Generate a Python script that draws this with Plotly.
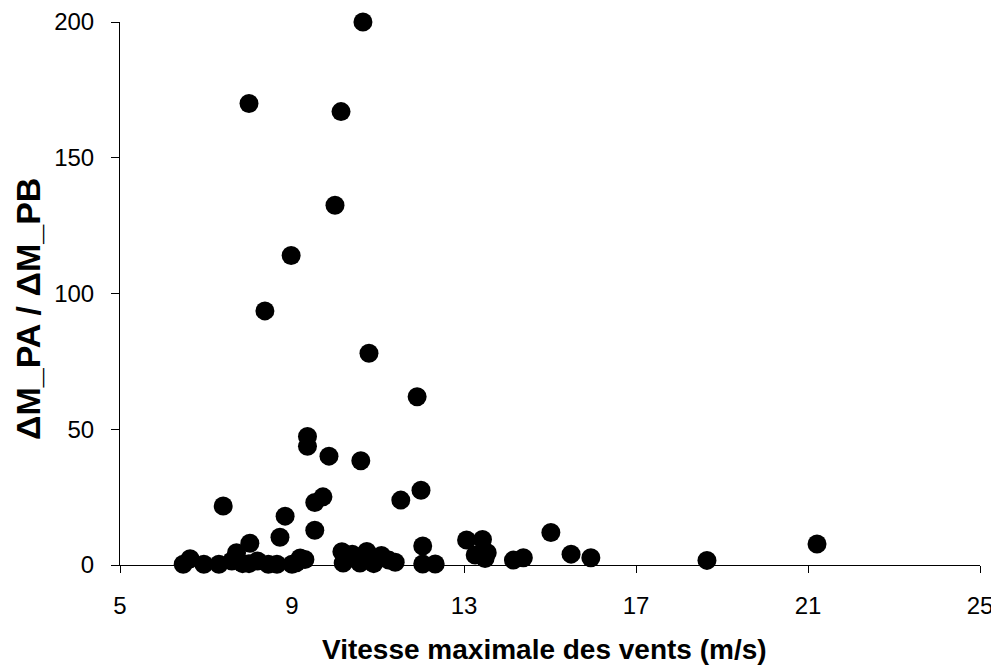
import plotly.graph_objects as go

# Vitesse maximale des vents (m/s)
vitesse = [6.47, 6.63, 6.95, 7.30, 7.40, 7.60, 7.71, 7.85, 8.02, 8.00,
           8.20, 8.45, 8.65, 8.72, 8.84, 8.98, 9.00, 9.10, 9.19, 9.30,
           9.36, 9.36, 9.53, 9.53, 9.72, 9.86, 10.00, 10.14, 10.16, 10.19,
           10.40, 10.58, 10.60, 10.65, 10.74, 10.79, 10.90, 11.08, 11.25, 11.40,
           11.53, 11.91, 12.00, 12.04, 12.04, 12.33, 13.06, 13.26, 13.43, 13.49,
           13.54, 14.15, 14.38, 15.02, 15.49, 15.95, 18.65, 21.21, 8.37, 8.00]
# ΔM_PA / ΔM_PB
ratio = [0.3, 2.3, 0.3, 0.3, 21.7, 1.5, 4.5, 0.5, 8.0, 0.5,
         1.5, 0.3, 0.3, 10.2, 18.0, 114.0, 0.3, 0.8, 2.6, 2.0,
         47.3, 43.7, 23.0, 12.8, 25.1, 40.1, 132.5, 167.0, 4.9, 0.7,
         4.0, 0.7, 38.4, 200.0, 5.0, 78.0, 0.5, 3.5, 1.8, 1.0,
         23.9, 62.0, 27.5, 7.0, 0.4, 0.4, 9.2, 3.7, 9.4, 2.4,
         4.5, 1.8, 2.7, 12.0, 4.0, 2.7, 1.7, 7.7, 93.6, 170.0]

x_ticks = [5, 9, 13, 17, 21, 25]
y_ticks = [0, 50, 100, 150, 200]

fig = go.Figure(go.Scatter(
    x=vitesse, y=ratio, mode="markers",
    marker=dict(color="black", size=19, line=dict(width=0)),
    showlegend=False, cliponaxis=False,
))

font_family = "Liberation Sans, Arial, sans-serif"
fig.update_layout(
    width=999, height=668,
    paper_bgcolor="white", plot_bgcolor="white",
    margin=dict(l=112, r=27, t=14, b=111, autoexpand=False),
    font=dict(family=font_family, color="black", size=24),
    annotations=[
        dict(text="<b>Vitesse maximale des vents (m/s)</b>", xref="paper", yref="paper",
             x=0.494, y=0, yshift=-84, xanchor="center", yanchor="middle",
             showarrow=False, font=dict(size=28)),
        dict(text="<b>ΔM_PA / ΔM_PB</b>", xref="paper", yref="paper",
             x=0, xshift=-92, y=0.4715, xanchor="center", yanchor="middle",
             textangle=-90, showarrow=False, font=dict(size=34)),
    ],
)
fig.update_xaxes(
    range=[5, 25], tickvals=x_ticks, ticktext=[str(v) for v in x_ticks],
    showgrid=False, zeroline=False, showline=True, linecolor="black", linewidth=1,
    ticks="outside", ticklen=7, tickcolor="black", ticklabelstandoff=12,
    tickfont=dict(size=24),
)
fig.update_yaxes(
    range=[0, 200], tickvals=y_ticks, ticktext=[str(v) for v in y_ticks],
    showgrid=False, zeroline=False, showline=True, linecolor="black", linewidth=1,
    ticks="outside", ticklen=8, tickcolor="black", ticklabelstandoff=12,
    tickfont=dict(size=24),
)

fig.write_html("out.html")
